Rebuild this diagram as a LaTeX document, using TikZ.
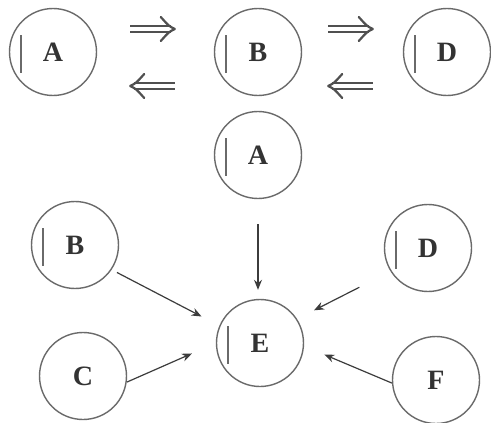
\documentclass[tikz,border=0pt]{standalone}
\usepackage{fontspec}
\setmainfont{Liberation Serif}
\usetikzlibrary{arrows.meta,calc}
\definecolor{linegray}{HTML}{6A6A6A}
\definecolor{textgray}{HTML}{333333}
\definecolor{arrgray}{HTML}{505050}
\definecolor{arrdark}{HTML}{3C3C3C}
\newcommand\cbarat[1]{\draw[cbar] ($(#1)+(-32,-17)$) -- ($(#1)+(-32,21)$);}
% implies-style head at coordinate #1, pointing right (#2=1) or left (#2=-1)
\newcommand\dhead[2]{\draw[headst] ($(#1)+({-14*#2},-12)$) .. controls ($(#1)+({-6*#2},-3)$) .. (#1) .. controls ($(#1)+({-6*#2},3)$) .. ($(#1)+({-14*#2},12)$);}
\begin{document}
\begin{tikzpicture}[x=1pt,y=-1pt,
  state/.style={circle,draw=linegray,line width=1.4pt,minimum size=87pt,inner sep=0pt,
    font=\fontsize{28}{28}\selectfont\bfseries,text=textgray},
  cbar/.style={draw=linegray,line width=1.6pt},
  dbl/.style={draw=arrgray,double,double distance=4.5pt,line width=2pt},
  headst/.style={draw=arrgray,line width=2.2pt,line cap=round,line join=round},
  feed/.style={draw=arrdark,line width=1.2pt,-{Stealth[length=10pt,width=8pt]}}]
\fill[white] (0,0) rectangle (491,423);
\useasboundingbox (0,0) rectangle (491,423);
% top row
\node[state] (A1) at (53,52) {A};
\node[state] (B1) at (258,52) {B};
\node[state] (D1) at (447,52) {D};
% second part
\node[state] (A2) at (258,155) {A};
\node[state] (B2) at (75,245) {B};
\node[state] (D2) at (428,248) {D};
\node[state] (C) at (83,376) {C};
\node[state] (E) at (260,343) {E};
\node[state] (F) at (436,380) {F};
% bars
\cbarat{A1}\cbarat{B1}\cbarat{D1}
\cbarat{A2}\cbarat{B2}\cbarat{D2}\cbarat{E}
% double arrows: A <=> B
\coordinate (ab1s) at ($(A1.east)+(33,-23)$);
\coordinate (ab1t) at ($(B1.west)+(-39,-23)$);
\draw[dbl] (ab1s) -- ($(ab1t)+(-4,0)$);
\dhead{ab1t}{1}
\coordinate (ba1s) at ($(B1.west)+(-39,34)$);
\coordinate (ba1t) at ($(A1.east)+(33,34)$);
\draw[dbl] (ba1s) -- ($(ba1t)+(4,0)$);
\dhead{ba1t}{-1}
% B <=> D
\coordinate (bd1s) at ($(B1.east)+(26,-23)$);
\coordinate (bd1t) at ($(D1.west)+(-30,-23)$);
\draw[dbl] (bd1s) -- ($(bd1t)+(-4,0)$);
\dhead{bd1t}{1}
\coordinate (db1s) at ($(D1.west)+(-30,34)$);
\coordinate (db1t) at ($(B1.east)+(26,34)$);
\draw[dbl] (db1s) -- ($(db1t)+(4,0)$);
\dhead{db1t}{-1}
% feeding arrows
\draw[feed,shorten <=25pt,shorten >=9pt] (A2.south) -- (A2.south |- E.north);
\draw[feed,shorten <=6pt,shorten >=20pt] (B2.-34) -- (E.157);
\draw[feed,shorten >=26pt] (C.-8) -- (E.west);
\draw[feed,shorten <=35pt,shorten >=19pt] (D2.212) -- (E.33);
\draw[feed,shorten >=22pt] (F.184) -- (E.-4);
\end{tikzpicture}
\end{document}
